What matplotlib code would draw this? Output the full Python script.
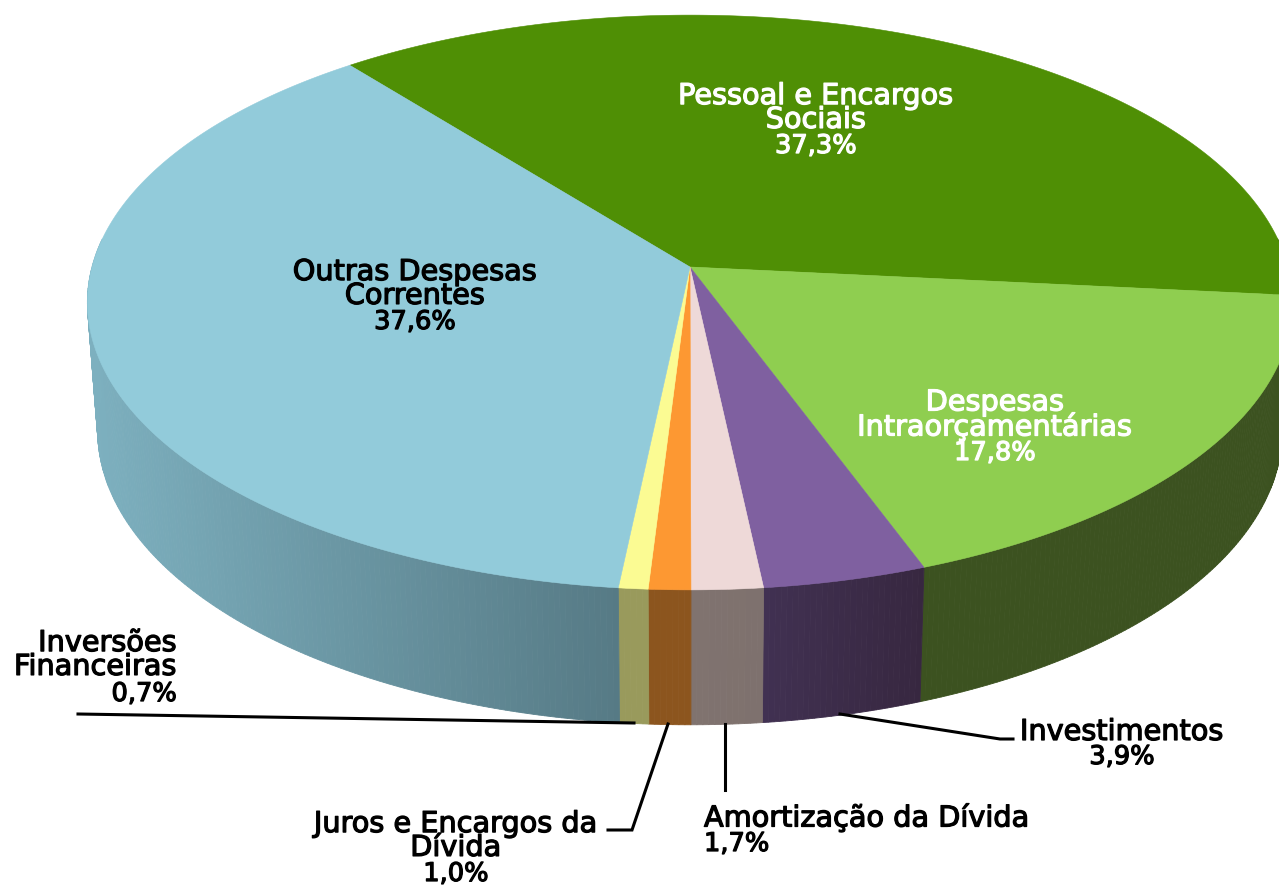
"""
Pie "3D" com perspectiva: participacao das despesas por grupo
"""

import numpy as np
import matplotlib
matplotlib.use('Agg')
import matplotlib.pyplot as plt
import matplotlib.patheffects as pe
from matplotlib.colors import to_rgb

# Data
groups = ['Pessoal e Encargos\nSociais', 'Despesas\nIntraorçamentárias', 'Investimentos',
          'Amortização da Dívida', 'Juros e Encargos da\nDívida', 'Inversões\nFinanceiras',
          'Outras Despesas\nCorrentes']
shares = [37.3, 17.8, 3.9, 1.7, 1.0, 0.7, 37.6]
share_labels = ['37,3%', '17,8%', '3,9%', '1,7%', '1,0%', '0,7%', '37,6%']

# Styles
top_colors = ['#4f8f05', '#8fce50', '#7f60a0', '#eed9d8', '#fd9832', '#fbfb93', '#92cbda']
side_left = ['#3c5220', '#3c5220', '#413152', '#80736f', '#8c551e', '#999a5c', '#7db0bf']
side_right = ['#3c5220', '#3c5220', '#372740', '#7e716e', '#8c551e', '#999a5c', '#567a85']
text_colors = ['white', 'white', 'black', 'black', 'black', 'black', 'black']
name_pos = [(816, 108, 'center'), (995, 415, 'center'), (1122, 732, 'center'), (704, 818, 'left'),
            (456, 836, 'center'), (177, 655, 'right'), (415, 284, 'center')]
pct_pos = [(816, 146, 'center'), (995, 453, 'center'), (1122, 757, 'center'), (704, 844, 'left'),
           (456, 874, 'center'), (177, 694, 'right'), (415, 322, 'center')]

# Geometry of the projected disc (pixels)
apex_x, apex_y = 690, 267
scale_x, scale_y, persp = 598, 283, 0.1235
top_cy, bottom_cy = 302, 430
bottom_sx, bottom_sy = 0.983, 1.024
start_angle = 128.6
side_x0 = 97  # left end of the side wall


def top_edge(theta):
    u, v = np.cos(theta), np.sin(theta)
    w = 1 + persp * v
    return apex_x + scale_x * u / w, apex_y - scale_y * v / w


def bottom_edge(theta):
    x, y = top_edge(theta)
    return apex_x + bottom_sx * (x - apex_x), bottom_cy + bottom_sy * (y - top_cy)


fig = plt.figure(figsize=(12.79, 8.85), dpi=100)
ax = fig.add_axes([0, 0, 1, 1])
ax.set_xlim(0, 1279)
ax.set_ylim(885, 0)
ax.axis('off')

edges = start_angle - np.cumsum([0] + shares) * 3.6

# Side wall, one thin strip at a time so the shading can vary
for i in range(len(shares)):
    n = max(int(abs(edges[i] - edges[i + 1]) * 2), 2)
    th = np.radians(np.linspace(edges[i], edges[i + 1], n + 1))
    c0, c1 = np.array(to_rgb(side_left[i])), np.array(to_rgb(side_right[i]))
    xs = bottom_edge(th)[0]
    x_lo = max(xs.min(), side_x0)
    x_hi = xs.max()
    for j in range(n):
        if np.sin(th[j]) > 0.1 and np.sin(th[j + 1]) > 0.1:
            continue
        x0, y0 = top_edge(th[j:j + 2])
        x1, y1 = bottom_edge(th[j:j + 2])
        t = np.clip((x1.mean() - x_lo) / (x_hi - x_lo), 0, 1)
        col = c0 + (c1 - c0) * t
        ax.fill(np.r_[x0, x1[::-1]], np.r_[y0, y1[::-1]], color=col, lw=0.6, zorder=2)

# Top face
for i in range(len(shares)):
    th = np.radians(np.linspace(edges[i], edges[i + 1], 300))
    x, y = top_edge(th)
    ax.fill(np.r_[apex_x, x], np.r_[apex_y, y], color=top_colors[i], lw=0.4, zorder=3)

# Leader lines
leaders = [([78, 634], [714, 723]),
           ([668, 632, 608], [724, 830, 830]),
           ([725, 725], [724, 790]),
           ([840, 1000, 1013], [714, 739, 739])]
for lx, ly in leaders:
    ax.plot(lx, ly, color='black', lw=2.2, solid_joinstyle='miter', zorder=4)

# Labels
for name, pct, (nx, ny, ha), (px, py, pha), col in zip(groups, share_labels, name_pos, pct_pos, text_colors):
    ax.text(nx, ny, name, ha=ha, va='center', multialignment=ha,
            color=col, fontsize=20.7, family='DejaVu Sans', linespacing=0.81, zorder=5,
            path_effects=[pe.withStroke(linewidth=0.9, foreground=col)])
    ax.text(px, py, pct, ha=pha, va='center', color=col, fontsize=18.5,
            family='DejaVu Sans', zorder=5,
            path_effects=[pe.withStroke(linewidth=0.9, foreground=col)])

plt.savefig('out.png', dpi=100, facecolor='white')
plt.close()
